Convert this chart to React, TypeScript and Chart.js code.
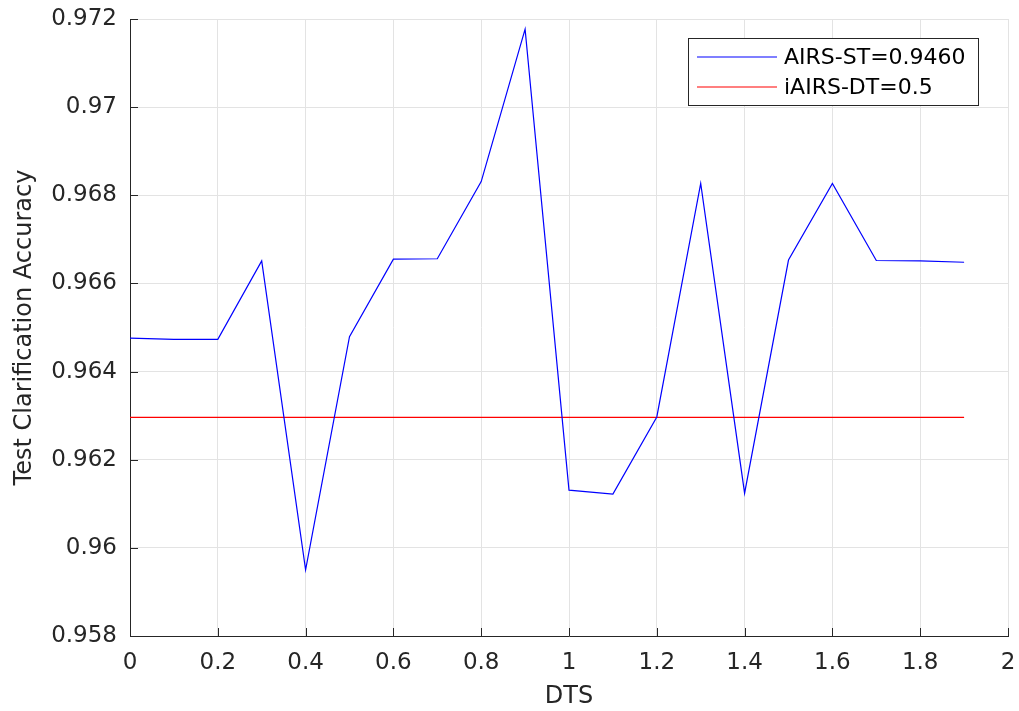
import React, { useEffect, useRef } from "react";
import { Chart, registerables } from "chart.js";

Chart.register(...registerables);

const dtsValues = [0, 0.1, 0.2, 0.3, 0.4, 0.5, 0.6, 0.7, 0.8, 0.9, 1.0, 1.1, 1.2, 1.3, 1.4, 1.5, 1.6, 1.7, 1.8, 1.9];
const airsST = [
  0.96476, 0.96473, 0.96473, 0.96651, 0.9595, 0.96479, 0.96655, 0.96656, 0.96831, 0.97177,
  0.96131, 0.96122, 0.96297, 0.96827, 0.96124, 0.96653, 0.96827, 0.96652, 0.96651, 0.96648,
];
const iairsDT = [
  0.96296, 0.96296, 0.96296, 0.96296, 0.96296, 0.96296, 0.96296, 0.96296, 0.96296, 0.96296,
  0.96296, 0.96296, 0.96296, 0.96296, 0.96296, 0.96296, 0.96296, 0.96296, 0.96296, 0.96296,
];
const seriesLabels = ["AIRS-ST=0.9460", "iAIRS-DT=0.5"];
const seriesColors = ["#0000ff", "#ff0000"];
const xTitle = "DTS";
const yTitle = "Test Clarification Accuracy";

const FONT = "'DejaVu Sans', sans-serif";
const TEXT = "#262626";
const GRID = "#e3e3e3";

const innerTicks = {
  id: "innerTicks",
  afterDraw(chart: any) {
    const { ctx, chartArea, scales } = chart;
    ctx.save();
    ctx.strokeStyle = TEXT;
    ctx.lineWidth = 1;
    ctx.beginPath();
    scales.y.ticks.forEach((t: any) => {
      const y = Math.round(scales.y.getPixelForValue(t.value)) + 0.5;
      ctx.moveTo(chartArea.left, y);
      ctx.lineTo(chartArea.left + 8, y);
    });
    scales.x.ticks.forEach((t: any) => {
      const x = Math.round(scales.x.getPixelForValue(t.value)) + 0.5;
      ctx.moveTo(x, chartArea.bottom);
      ctx.lineTo(x, chartArea.bottom - 8);
    });
    ctx.stroke();
    ctx.restore();
  },
};

const boxLegend = {
  id: "boxLegend",
  afterDraw(chart: any) {
    const { ctx } = chart;
    const left = 688;
    const top = 38;
    const w = 290;
    const h = 67;
    ctx.save();
    ctx.fillStyle = "#ffffff";
    ctx.fillRect(left, top, w, h);
    ctx.strokeStyle = TEXT;
    ctx.lineWidth = 1;
    ctx.strokeRect(left + 0.5, top + 0.5, w, h);
    ctx.font = `22px ${FONT}`;
    ctx.textBaseline = "middle";
    ctx.textAlign = "left";
    chart.data.datasets.forEach((ds: any, i: number) => {
      const y = top + 19 + i * 30;
      ctx.strokeStyle = ds.borderColor;
      ctx.lineWidth = 1.2;
      ctx.beginPath();
      ctx.moveTo(left + 9, y);
      ctx.lineTo(left + 89, y);
      ctx.stroke();
      ctx.fillStyle = "#000000";
      ctx.fillText(ds.label, left + 96, y + 1);
    });
    ctx.restore();
  },
};

function fmt(v: number) {
  return String(Number(Number(v).toFixed(4)));
}

function zeroPad(s: any) {
  s.paddingTop = 0;
  s.paddingBottom = 0;
  s.paddingLeft = 0;
  s.paddingRight = 0;
}

export default function App() {
  const ref = useRef<HTMLCanvasElement | null>(null);
  useEffect(() => {
    if (!ref.current) return;
    const chart = new Chart(ref.current, {
      type: "line",
      data: {
        datasets: [
          {
            label: seriesLabels[0],
            data: dtsValues.map((x, i) => ({ x, y: airsST[i] })),
            borderColor: seriesColors[0],
            borderWidth: 1.2,
            pointRadius: 0,
            tension: 0,
          },
          {
            label: seriesLabels[1],
            data: dtsValues.map((x, i) => ({ x, y: iairsDT[i] })),
            borderColor: seriesColors[1],
            borderWidth: 1.2,
            pointRadius: 0,
            tension: 0,
          },
        ],
      },
      options: {
        animation: false,
        responsive: true,
        maintainAspectRatio: false,
        layout: { padding: { left: 0, top: 19, right: 11, bottom: 0 } },
        plugins: { legend: { display: false }, tooltip: { enabled: false } },
        scales: {
          x: {
            type: "linear",
            min: 0,
            max: 2,
            afterFit: (s: any) => {
              s.height = 75;
              zeroPad(s);
            },
            ticks: {
              stepSize: 0.2,
              color: TEXT,
              font: { family: FONT, size: 23 },
              padding: 13,
              maxRotation: 0,
              callback: (v: any) => fmt(v),
            },
            grid: { color: GRID, drawTicks: false, lineWidth: 1 },
            border: { color: TEXT, width: 1 },
            title: {
              display: true,
              text: xTitle,
              color: TEXT,
              font: { family: FONT, size: 24 },
              padding: { top: 0, bottom: 0 },
            },
          },
          y: {
            type: "linear",
            min: 0.958,
            max: 0.972,
            afterFit: (s: any) => {
              s.width = 130;
              zeroPad(s);
            },
            ticks: {
              stepSize: 0.002,
              color: TEXT,
              font: { family: FONT, size: 23 },
              padding: 13,
              callback: (v: any) => fmt(v),
            },
            grid: { color: GRID, drawTicks: false, lineWidth: 1 },
            border: { color: TEXT, width: 1 },
            title: {
              display: true,
              text: yTitle,
              color: TEXT,
              font: { family: FONT, size: 24 },
              padding: { top: 10, bottom: 0 },
            },
          },
        },
      },
      plugins: [innerTicks, boxLegend],
    });
    return () => chart.destroy();
  }, []);
  return (
    <div style={{ position: "absolute", left: 0, top: 0, width: 1019, height: 711, background: "#fff" }}>
      <canvas ref={ref} />
    </div>
  );
}
